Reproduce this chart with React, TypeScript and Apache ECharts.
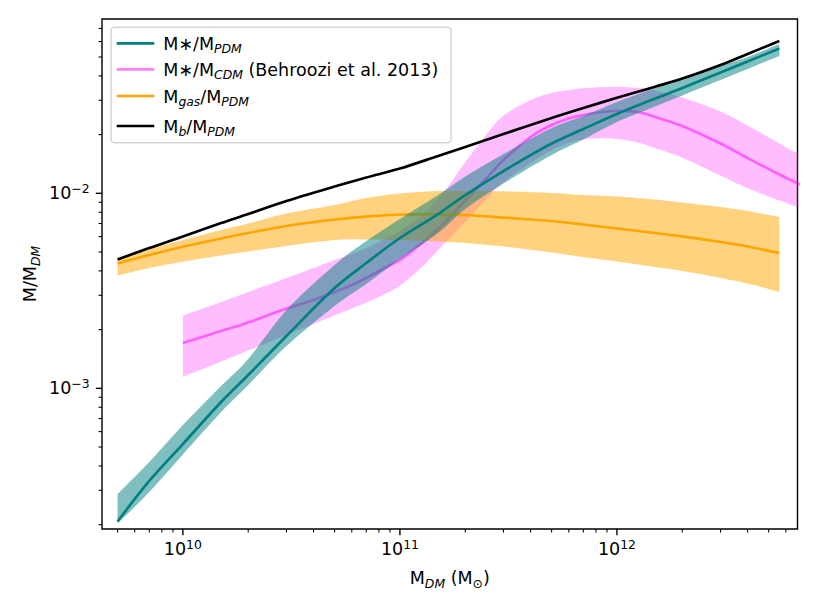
import { useEffect, useRef } from "react";
import * as echarts from "echarts";

const FONT = "'DejaVu Sans', 'Liberation Sans', sans-serif";

// ---------- data ----------
const massGrid = [5e9, 7e9, 1e10, 1.5e10, 2e10, 3e10, 5e10, 7e10, 1e11, 1.5e11, 2e11, 3e11, 5e11, 7e11, 1e12, 1.5e12, 2e12, 3e12, 4e12, 5.6e12];

const starPDM = [2.075e-4, 3.35e-4, 5.18e-4, 8.51e-4, 1.17e-3, 1.854e-3, 3.268e-3, 4.391e-3, 5.9e-3, 7.83e-3, 9.8e-3, 1.301e-2, 1.8e-2, 2.137e-2, 2.551e-2, 3.063e-2, 3.467e-2, 4.159e-2, 4.743e-2, 5.53e-2];
const starPDMHigh = [2.87e-4, 4.19e-4, 6.48e-4, 1.028e-3, 1.413e-3, 2.52e-3, 4.289e-3, 5.69e-3, 7.38e-3, 9.8e-3, 1.219e-2, 1.59e-2, 2.162e-2, 2.491e-2, 2.939e-2, 3.467e-2, 3.856e-2, 4.497e-2, 5.0e-2, 5.83e-2];
const starPDMLow = [2.026e-4, 2.94e-4, 4.58e-4, 7.558e-4, 1.04e-3, 1.648e-3, 2.643e-3, 3.426e-3, 4.604e-3, 6.258e-3, 8.307e-3, 1.123e-2, 1.572e-2, 1.888e-2, 2.321e-2, 2.787e-2, 3.175e-2, 3.811e-2, 4.339e-2, 5.06e-2];

const gasPDM = [4.37e-3, 4.83e-3, 5.32e-3, 5.87e-3, 6.26e-3, 6.8e-3, 7.34e-3, 7.6e-3, 7.79e-3, 7.8e-3, 7.74e-3, 7.51e-3, 7.21e-3, 6.92e-3, 6.6e-3, 6.26e-3, 6.01e-3, 5.63e-3, 5.34e-3, 4.94e-3];
const gasPDMHigh = [4.58e-3, 5.18e-3, 5.76e-3, 6.48e-3, 7.0e-3, 7.88e-3, 8.71e-3, 9.46e-3, 9.98e-3, 1.027e-2, 1.027e-2, 1.024e-2, 1.004e-2, 9.8e-3, 9.63e-3, 9.29e-3, 8.97e-3, 8.51e-3, 8.11e-3, 7.56e-3];
const gasPDMLow = [3.79e-3, 4.14e-3, 4.46e-3, 4.8e-3, 5.03e-3, 5.37e-3, 5.76e-3, 5.8e-3, 5.76e-3, 5.66e-3, 5.56e-3, 5.34e-3, 4.97e-3, 4.71e-3, 4.47e-3, 4.19e-3, 4.0e-3, 3.68e-3, 3.45e-3, 3.12e-3];

const baryonPDM = [4.576e-3, 5.243e-3, 6.006e-3, 7.042e-3, 7.83e-3, 9.13e-3, 1.083e-2, 1.205e-2, 1.34e-2, 1.554e-2, 1.727e-2, 2.014e-2, 2.433e-2, 2.737e-2, 3.088e-2, 3.522e-2, 3.874e-2, 4.55e-2, 5.182e-2, 6.04e-2];

const behrooziMass = [1e10, 1.5e10, 2e10, 3e10, 4e10, 5e10, 6e10, 7e10, 8.5e10, 1e11, 1.25e11, 1.5e11, 1.75e11, 2e11, 2.5e11, 3e11, 4e11, 5e11, 6e11, 7e11, 8.5e11, 1e12, 1.25e12, 1.5e12, 2e12, 3e12, 4e12, 5.6e12, 7e12];
const behrooziStar = [1.707e-3, 1.967e-3, 2.175e-3, 2.566e-3, 2.837e-3, 3.117e-3, 3.386e-3, 3.678e-3, 4.139e-3, 4.55e-3, 5.495e-3, 6.56e-3, 7.83e-3, 9.186e-3, 1.191e-2, 1.482e-2, 1.944e-2, 2.239e-2, 2.419e-2, 2.521e-2, 2.611e-2, 2.642e-2, 2.611e-2, 2.462e-2, 2.213e-2, 1.8e-2, 1.517e-2, 1.248e-2, 1.109e-2];
const behrooziHigh = [2.362e-3, 2.771e-3, 3.117e-3, 3.678e-3, 4.139e-3, 4.55e-3, 4.884e-3, 5.243e-3, 5.83e-3, 6.408e-3, 7.648e-3, 9.35e-3, 1.17e-2, 1.447e-2, 2.0e-2, 2.5e-2, 3.009e-2, 3.268e-2, 3.386e-2, 3.456e-2, 3.5e-2, 3.52e-2, 3.467e-2, 3.367e-2, 3.1e-2, 2.628e-2, 2.227e-2, 1.8e-2, 1.572e-2];
const behrooziLow = [1.143e-3, 1.372e-3, 1.562e-3, 1.876e-3, 2.137e-3, 2.362e-3, 2.566e-3, 2.754e-3, 3.045e-3, 3.367e-3, 4.139e-3, 5.12e-3, 6.112e-3, 7.126e-3, 9.35e-3, 1.143e-2, 1.43e-2, 1.658e-2, 1.811e-2, 1.888e-2, 1.915e-2, 1.899e-2, 1.822e-2, 1.703e-2, 1.522e-2, 1.234e-2, 1.062e-2, 9.186e-3, 8.41e-3];

// axis limits and ticks
const X_MIN = 4.24e9;
const X_MAX = 6.79e12;
const Y_MIN = 1.9e-4;
const Y_MAX = 7.83e-2;
const xMajorTicks = [1e10, 1e11, 1e12];
const xMinorTicks = [5e9, 6e9, 7e9, 8e9, 9e9, 2e10, 3e10, 4e10, 5e10, 6e10, 7e10, 8e10, 9e10, 2e11, 3e11, 4e11, 5e11, 6e11, 7e11, 8e11, 9e11, 2e12, 3e12, 4e12, 5e12, 6e12];
const yMajorTicks = [1e-3, 1e-2];
const yMinorTicks = [2e-4, 3e-4, 4e-4, 5e-4, 6e-4, 7e-4, 8e-4, 9e-4, 2e-3, 3e-3, 4e-3, 5e-3, 6e-3, 7e-3, 8e-3, 9e-3, 2e-2, 3e-2, 4e-2, 5e-2, 6e-2, 7e-2];

const legendItems = [
  { text: "{n|M∗/M}{s|PDM}", color: "#008080" },
  { text: "{n|M∗/M}{s|CDM}{n| (Behroozi et al. 2013)}", color: "rgba(255,0,255,0.5)" },
  { text: "{n|M}{s|gas}{n|/M}{s|PDM}", color: "#ffa500" },
  { text: "{n|M}{s|b}{n|/M}{s|PDM}", color: "#000000" },
];

// ---------- layout ----------
const W = 817;
const H = 613;
const G_LEFT = 102;
const G_TOP = 19;
const G_RIGHT = 797.5;
const G_BOTTOM = 529;
const FS = 17.5;
const LW = 2.66;
const SMOOTH = 0.33;
const legendRowY = [43.3, 69.3, 96, 126];

const rich = {
  n: { fontSize: FS, fontFamily: FONT, lineHeight: 22, color: "#000" },
  s: { fontSize: 12.4, fontFamily: FONT, fontStyle: "italic", lineHeight: 12, verticalAlign: "bottom", color: "#000" },
  o: { fontSize: 12.4, fontFamily: FONT, lineHeight: 12, verticalAlign: "bottom", color: "#000" },
  b: { fontSize: FS, fontFamily: FONT, lineHeight: 22, color: "#000" },
  p: { fontSize: 12.4, fontFamily: FONT, lineHeight: 10, verticalAlign: "top", color: "#000" },
};

const zip = (xs: number[], ys: number[]) => xs.map((x, i) => [x, ys[i]]);

// Catmull-Rom curve through pixel points (same curve family as the line series' smoothing)
function curve(pts: number[][], steps = 10) {
  const out: number[][] = [];
  const n = pts.length;
  for (let i = 0; i < n - 1; i++) {
    const p0 = pts[Math.max(i - 1, 0)];
    const p1 = pts[i];
    const p2 = pts[i + 1];
    const p3 = pts[Math.min(i + 2, n - 1)];
    for (let s = 0; s < steps; s++) {
      const t = s / steps;
      const t2 = t * t;
      const t3 = t2 * t;
      const f = (k: number) =>
        0.5 * (2 * p1[k] + (-p0[k] + p2[k]) * t + (2 * p0[k] - 5 * p1[k] + 4 * p2[k] - p3[k]) * t2 + (-p0[k] + 3 * p1[k] - 3 * p2[k] + p3[k]) * t3);
      out.push([f(0), f(1)]);
    }
  }
  out.push(pts[n - 1]);
  return out;
}

function band(xs: number[], lo: number[], hi: number[], fill: string, z: number) {
  return {
    type: "custom",
    coordinateSystem: "cartesian2d",
    clip: true,
    silent: true,
    z,
    data: [[xs[0], lo[0]]],
    renderItem: (_p: any, api: any) => {
      const top = curve(xs.map((x, i) => api.coord([x, hi[i]])));
      const bottom = curve(xs.map((x, i) => api.coord([x, lo[i]])));
      const pts = top.concat(bottom.reverse());
      return { type: "polygon", shape: { points: pts }, style: { fill } };
    },
  };
}

function line(xs: number[], ys: number[], color: string, z: number) {
  return {
    type: "line",
    data: zip(xs, ys),
    showSymbol: false,
    symbol: "none",
    smooth: SMOOTH,
    clip: true,
    silent: true,
    z,
    lineStyle: { color, width: LW, join: "round", cap: "butt" },
    itemStyle: { color },
  };
}

function xTicks(values: number[], len: number, width: number) {
  return {
    type: "custom",
    coordinateSystem: "cartesian2d",
    clip: false,
    silent: true,
    z: 30,
    data: values.map((v) => [v, Y_MIN]),
    renderItem: (_p: any, api: any) => {
      const c = api.coord([api.value(0), Y_MIN]);
      return { type: "line", shape: { x1: c[0], y1: c[1], x2: c[0], y2: c[1] + len }, style: { stroke: "#000", lineWidth: width } };
    },
  };
}

function yTicks(values: number[], len: number, width: number) {
  return {
    type: "custom",
    coordinateSystem: "cartesian2d",
    clip: false,
    silent: true,
    z: 30,
    data: values.map((v) => [X_MIN, v]),
    renderItem: (_p: any, api: any) => {
      const c = api.coord([X_MIN, api.value(1)]);
      return { type: "line", shape: { x1: c[0], y1: c[1], x2: c[0] - len, y2: c[1] }, style: { stroke: "#000", lineWidth: width } };
    },
  };
}

const powLabel = (v: number) => {
  const e = Math.log10(v);
  const r = Math.round(e);
  if (Math.abs(e - r) > 1e-6) return "";
  return "{b|10}{p|" + String(r).replace("-", "\u2212") + "}";
};

export default function App() {
  const ref = useRef<HTMLDivElement>(null);
  useEffect(() => {
    if (!ref.current) return;
    const chart = echarts.init(ref.current, null, { renderer: "svg" });
    const legendGraphics: any[] = [
      {
        type: "rect",
        z: 100,
        shape: { x: 111, y: 27.3, width: 340, height: 115.4, r: 3.5 },
        style: { fill: "rgba(255,255,255,0.8)", stroke: "#d3d3d3", lineWidth: 1.4 },
      },
    ];
    legendItems.forEach((it, i) => {
      const y = legendRowY[i];
      legendGraphics.push({
        type: "line",
        z: 101,
        shape: { x1: 116.7, y1: y, x2: 154.3, y2: y },
        style: { stroke: it.color, lineWidth: LW },
      });
      legendGraphics.push({
        type: "text",
        z: 101,
        x: 163.3,
        y: y + 0.5,
        style: { text: it.text, rich, align: "left", verticalAlign: "middle", fontSize: FS, fontFamily: FONT, fill: "#000" },
      });
    });

    chart.setOption({
      animation: false,
      backgroundColor: "#fff",
      grid: {
        left: G_LEFT,
        top: G_TOP,
        width: G_RIGHT - G_LEFT,
        height: G_BOTTOM - G_TOP,
        show: true,
        borderColor: "#000",
        borderWidth: 1.4,
        backgroundColor: "transparent",
        containLabel: false,
      },
      xAxis: {
        type: "log",
        logBase: 10,
        min: X_MIN,
        max: X_MAX,
        axisLine: { show: false },
        axisTick: { show: false },
        splitLine: { show: false },
        minorTick: { show: false },
        axisLabel: { show: true, margin: 9, formatter: powLabel, rich, showMinLabel: true, showMaxLabel: true, hideOverlap: false },
      },
      yAxis: {
        type: "log",
        logBase: 10,
        min: Y_MIN,
        max: Y_MAX,
        axisLine: { show: false },
        axisTick: { show: false },
        splitLine: { show: false },
        minorTick: { show: false },
        axisLabel: { show: true, margin: 12.4, formatter: powLabel, rich, showMinLabel: true, showMaxLabel: true, hideOverlap: false },
      },
      series: [
        band(behrooziMass, behrooziLow, behrooziHigh, "rgba(255,0,255,0.26)", 2),
        line(behrooziMass, behrooziStar, "rgba(255,0,255,0.5)", 3),
        band(massGrid, gasPDMLow, gasPDMHigh, "rgba(255,165,0,0.5)", 4),
        line(massGrid, gasPDM, "#ffa500", 5),
        band(massGrid, starPDMLow, starPDMHigh, "rgba(0,128,128,0.5)", 6),
        line(massGrid, starPDM, "#008080", 7),
        line(massGrid, baryonPDM, "#000000", 8),
        xTicks(xMajorTicks, 6.2, 1.4),
        xTicks(xMinorTicks, 3.5, 1.06),
        yTicks(yMajorTicks, 6.2, 1.4),
        yTicks(yMinorTicks, 3.5, 1.06),
      ],
      graphic: [
        ...legendGraphics,
        {
          type: "text",
          z: 100,
          x: (G_LEFT + G_RIGHT) / 2,
          y: 578,
          style: { text: "{n|M}{s|DM}{n| (M}{o|⊙}{n|)}", rich, align: "center", verticalAlign: "middle", fontSize: FS, fontFamily: FONT, fill: "#000" },
        },
        {
          type: "text",
          z: 100,
          x: 30,
          y: (G_TOP + G_BOTTOM) / 2,
          rotation: Math.PI / 2,
          style: { text: "{n|M/M}{s|DM}", rich, align: "center", verticalAlign: "middle", fontSize: FS, fontFamily: FONT, fill: "#000" },
        },
      ],
    });
    return () => chart.dispose();
  }, []);
  return <div ref={ref} style={{ position: "fixed", left: 0, top: 0, width: W, height: H }} />;
}
